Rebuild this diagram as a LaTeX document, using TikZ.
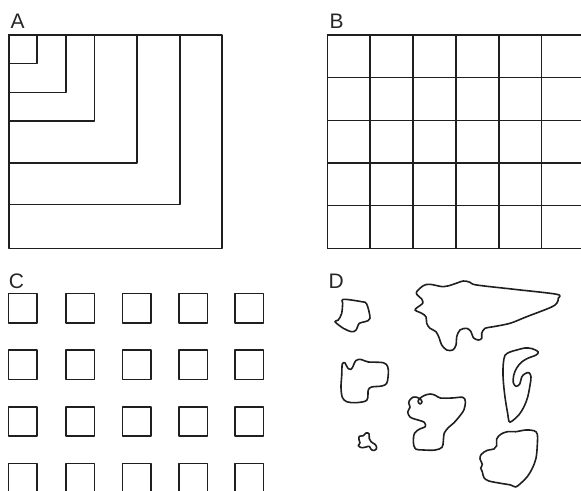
\documentclass[tikz,border=0pt]{standalone}
\usepackage{fontspec}
\setmainfont{Liberation Sans}
\begin{document}
\begin{tikzpicture}[x=1pt,y=-1pt,
  ln/.style={line width=1.6pt, draw=black!88, line join=round},
  blob/.style={ln, smooth cycle, tension=0.55},
  lbl/.style={anchor=base west, inner sep=0pt, font=\fontsize{21}{21}\selectfont, text=black!85}]
\useasboundingbox (0,0) rectangle (581,490);
\clip (0,0) rectangle (581,490);
% labels
\node[lbl] (la) at (10.3,28.3) {A};
\node[lbl] (lb) at (329.3,28.3) {B};
\node[lbl] (lc) at (8.8,288.3) {C};
\node[lbl] (ld) at (328.3,288.3) {D};
% panel A: nested rectangles sharing the top-left corner
\foreach \r/\b in {36.7/63.3, 65.7/92.3, 94.3/120.7, 136.7/162.7, 180/204.3, 221.7/248.3}
  \draw[ln] (9,35) rectangle (\r,\b);
% panel B: grid, cut by the right edge
\foreach \i in {0,...,6}
  \draw[ln] ({327.3+42.85*\i},35) -- ({327.3+42.85*\i},248.3);
\foreach \j in {0,...,5}
  \draw[ln] (327.3,{35+42.66*\j}) -- (590,{35+42.66*\j});
% panel C: separate squares
\foreach \x in {8.3,65.7,122.3,179,235}
  \foreach \y in {293.3,350,406.7,463.3}
    \draw[ln] (\x,\y) rectangle ++(28.6,29.5);
% panel D: irregular outlines
\draw[ln] plot[blob] coordinates {(343.3,299.3) (361.7,301.7) (366.7,304) (370,318.3) (365,321.7) (359.3,323.3) (356,330) (351.7,331.7) (343.3,328.3) (335,321.7) (338.3,320) (341.7,313.3) (342.7,303.3)};
\draw[ln] plot[blob] coordinates {(416.7,291.7) (423.3,285.7) (430,284.3) (443.3,286.7) (453.3,284.3) (463.3,281) (470,282.3) (476.7,285) (516,289.5) (556.7,294.3) (558.3,298.3) (556.7,303.3) (550,307.7) (526.7,316.7) (510,323.3) (493.3,326.7) (485,328.3) (481.7,333.3) (481.7,338.3) (478.3,340) (473.3,337.7) (471,331.7) (466.7,328.3) (460,330) (456.7,336.7) (456,345) (452.7,350) (446.7,350) (441.7,345) (439.3,338.3) (436,331.7) (430,328.3) (426.7,323.3) (426,316.7) (421.7,313.3) (415,310) (418.3,306.7) (422.7,303.3) (421.7,299) (417.3,295)};
\draw[ln] plot[blob] coordinates {(342.3,364) (345,363) (347.7,368) (351,369.3) (353.3,365.7) (355.7,360.7) (360,359.3) (364.3,360.7) (368.3,362) (383.3,362.7) (387.7,366.7) (388.3,374) (386.7,383.3) (381.7,386) (371.7,387) (368.3,390) (367.7,398) (365,401.3) (355,402.7) (346.7,401.7) (342.3,397.3) (341,387.3) (341.7,375.7)};
\draw[ln] plot[blob] coordinates {(505,355.3) (510,352) (516.7,350) (525,348) (532.3,348.7) (538.3,352) (535.7,355.3) (528.3,358) (521.7,362) (516.7,368) (513.7,375.3) (513.3,382.7) (516,386.3) (519.7,384) (521.7,377) (525,373.7) (529,372.7) (531,377) (530,385.3) (527.7,397) (524.3,406) (519,414.7) (511.7,421.3) (509,421.3) (507.7,413.7) (505.7,402) (504,388.7) (503,375.3) (503.3,363.7)};
\draw[ln] plot[blob] coordinates {(409.3,400.7) (412.7,397.3) (417,397.3) (420.3,399) (422,402) (420,404) (418,401.3) (420.3,398) (424.7,395.3) (430.3,394) (435.3,395.3) (440.3,398) (452,398) (462.7,397.3) (465.3,401.3) (464,409.7) (458.7,417.3) (453.7,423) (448.7,427.3) (444.3,433) (443.3,441.3) (442,447.3) (435.3,450) (423.7,450) (415.3,448.7) (413.3,441.3) (414.7,433) (420.3,428.7) (425.3,426.7) (424.3,422.3) (417,419.7) (410.3,417.3) (407.7,412) (410,407.3) (408.7,403)};
\draw[ln] plot[blob] coordinates {(359.3,436.3) (363.3,435.7) (366,433) (369,433.7) (369.3,438.7) (371.3,442) (375,444.3) (376.7,447.7) (374.7,450.3) (371.3,449.7) (369.3,446.3) (366,447) (361.7,447.7) (358.3,445.7) (360,443) (359,439.7)};
\draw[ln] plot[blob] coordinates {(496.7,439) (500.7,434.3) (507.3,431.7) (515.7,431.7) (525.7,430) (534,430.7) (537.3,434.3) (537.3,445) (536,458.3) (532.3,468.3) (527.3,476.7) (520.7,483.3) (515.7,487) (510.7,485) (500.7,483.3) (489,481) (484,477.7) (482.3,471.7) (480.7,468.3) (482.3,464.3) (480,459) (481.3,454.3) (487.3,450.3) (494,449) (496.7,445.7)};
\end{tikzpicture}
\end{document}
